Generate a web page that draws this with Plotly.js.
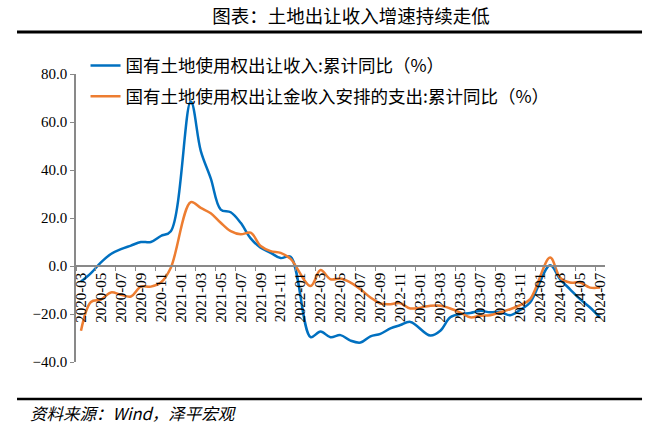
<!DOCTYPE html>
<html>
<head>
<meta charset="utf-8">
<script src="https://cdn.plot.ly/plotly-3.0.1.min.js"></script>
<style>
  html, body { margin: 0; padding: 0; background: #fff; }
  #chart { width: 660px; height: 428px; }
</style>
</head>
<body>
<div id="chart"></div>
<script>
// months on the category axis (January has no release, left as null)
var months = [
  '2020-03','2020-04','2020-05','2020-06','2020-07','2020-08','2020-09','2020-10','2020-11','2020-12',
  '2021-01','2021-02','2021-03','2021-04','2021-05','2021-06','2021-07','2021-08','2021-09','2021-10','2021-11','2021-12',
  '2022-01','2022-02','2022-03','2022-04','2022-05','2022-06','2022-07','2022-08','2022-09','2022-10','2022-11','2022-12',
  '2023-01','2023-02','2023-03','2023-04','2023-05','2023-06','2023-07','2023-08','2023-09','2023-10','2023-11','2023-12',
  '2024-01','2024-02','2024-03','2024-04','2024-05','2024-06','2024-07'
];

// 国有土地使用权出让收入: 累计同比 (%)
var landRevenue = [
  -6.5, -3, 1.5, 5, 7, 8.5, 10, 10, 12.5, 14.5,
  null, 68.5, 48, 36.5, 23.5, 22.4, 18, 11.5, 7.6, 5.5, 3.3, 3.8,
  null, -29.6, -27.3, -29.7, -28.8, -31.1, -31.9, -29.3, -28.3, -26, -24.6, -23.3,
  null, -29, -27, -21.4, -20, -19.6, -18.7, -19.3, -19.1, -20.5, -18.3, -15.2,
  null, 0.3, -5.5, -9.7, -13.8, -17.3, -21.5
];

// 国有土地使用权出让金收入安排的支出: 累计同比 (%)
var landSpending = [
  -27, -15, -14, -11, -12, -12.7, -8.6, -8.6, -6.9, -0.7,
  null, 26.6, 24.2, 22, 18, 14.5, 13.2, 13.9, 8.3, 6.2, 5.5, 3,
  null, -8.3, -1.7, -5.5, -5.2, -6.9, -9.7, -13.1, -15.6, -15.9, -15.5, -17.7,
  null, -16.6, -16.6, -17.7, -19.4, -21.4, -20.7, -20.5, -19.3, -18, -16.3, -13.8,
  null, 3.5, -4.8, -6.9, -6.9, -9, -9
];

var names = ['国有土地使用权出让收入:累计同比（%）', '国有土地使用权出让金收入安排的支出:累计同比（%）'];

var CJK = '"Noto Sans CJK SC", sans-serif';

var trace1 = {x: months, y: landRevenue, type: 'scatter', mode: 'lines',
              name: names[0], legendgroup: 'a', connectgaps: true,
              line: {color: '#0070C0', width: 2.5, shape: 'spline', smoothing: 1}};

var trace2 = {x: months, y: landSpending, type: 'scatter', mode: 'lines',
              name: names[1], legendgroup: 'b', connectgaps: true,
              line: {color: '#ED7D31', width: 2.5, shape: 'spline', smoothing: 1}};

var layout = {
  width: 660, height: 428,
  margin: {l: 76, r: 55, t: 74, b: 66},
  paper_bgcolor: '#fff', plot_bgcolor: '#fff',
  font: {family: '"Liberation Serif", serif', size: 15, color: '#000'},
  title: {text: '图表：土地出让收入增速持续走低', font: {family: CJK, size: 18.5, color: '#000'},
          x: 0.532, xanchor: 'center', y: 0.962, yanchor: 'middle'},
  showlegend: true,
  legend: {x: 0.018, y: 1.092, xanchor: 'left', yanchor: 'top', bgcolor: 'rgba(0,0,0,0)',
           font: {family: CJK, size: 17.5, color: '#000'}, tracegroupgap: 5},
  xaxis: {type: 'category', range: [-0.5, months.length - 0.5],
          anchor: 'free', position: 40 / 120,
          tickmode: 'linear', tick0: 0, dtick: 2, tickson: 'boundaries',
          tickangle: -90, ticks: 'outside', ticklen: 4, tickcolor: '#898989',
          showline: true, linecolor: '#898989', linewidth: 1.5,
          showgrid: false, zeroline: false,
          tickfont: {family: '"Liberation Serif", serif', size: 15, color: '#000'}},
  yaxis: {range: [-40, 80], dtick: 20, tickformat: '.1f',
          ticks: 'outside', ticklen: 4, tickcolor: '#898989',
          showline: true, linecolor: '#898989', linewidth: 1.5,
          showgrid: false, zeroline: false,
          tickfont: {family: '"Liberation Serif", serif', size: 15, color: '#000'}},
  shapes: [
    {type: 'line', xref: 'paper', yref: 'paper', x0: -0.1115, x1: 1.07, y0: 1.146, y1: 1.146,
     line: {color: '#000', width: 3}},
    {type: 'line', xref: 'paper', yref: 'paper', x0: -0.1115, x1: 1.07, y0: -0.1285, y1: -0.1285,
     line: {color: '#000', width: 2.5}}
  ],
  annotations: [
    {text: '资料来源：Wind，泽平宏观', xref: 'paper', yref: 'paper', x: -0.091, y: -0.177,
     xanchor: 'left', yanchor: 'middle', showarrow: false,
     font: {family: CJK, size: 16.5, color: '#000', style: 'italic'}}
  ]
};

var config = {displayModeBar: false, responsive: false};

Plotly.newPlot(document.getElementById('chart'), [trace1, trace2], layout, config);
</script>
</body>
</html>
